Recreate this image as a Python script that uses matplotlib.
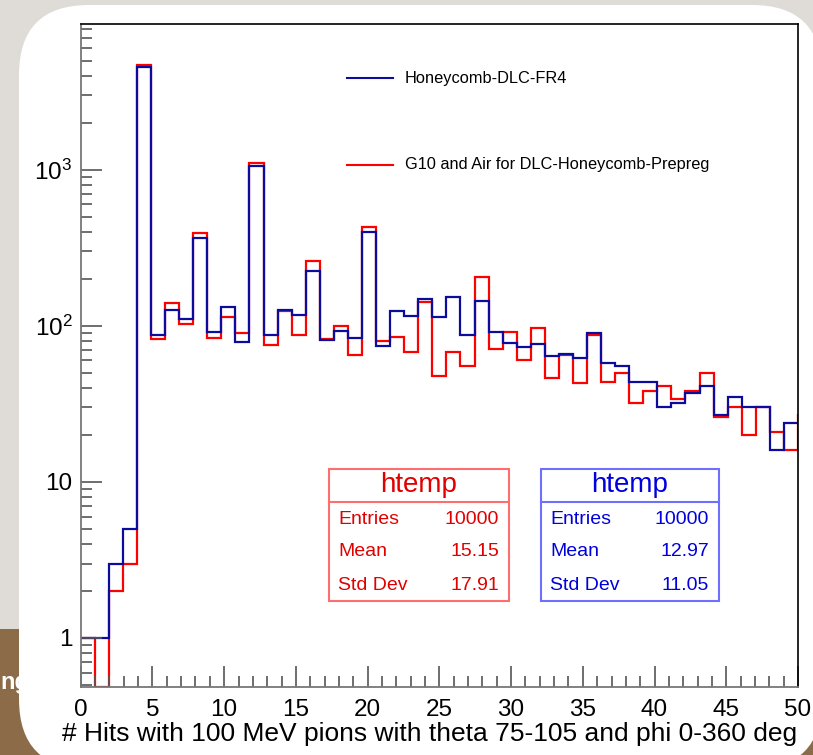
import numpy as np
import matplotlib
matplotlib.use('Agg')
import matplotlib.pyplot as plt
from matplotlib.patches import FancyBboxPatch, Rectangle
from matplotlib.lines import Line2D
from matplotlib.transforms import IdentityTransform

plt.rcParams['font.family'] = ['Liberation Sans', 'DejaVu Sans']

W, H = 813, 755

# bin contents (bins of width 50/51 starting at 0)
blue_counts = [1, 1, 3, 5, 4590, 87, 127, 111, 368, 92, 132, 79, 1061, 87, 127, 118,
               226, 81, 93, 84, 402, 74, 124, 115, 148, 114, 152, 87, 145, 91, 78, 73,
               77, 64, 66, 62, 90, 58, 55, 44, 44, 30, 32, 37, 41, 27, 35, 30, 30, 16, 24, 24]
red_counts = [1, 0, 2, 3, 4710, 82, 140, 103, 396, 83, 114, 90, 1114, 75, 125, 88,
              261, 82, 100, 65, 427, 80, 85, 68, 142, 48, 68, 55, 207, 71, 92, 60,
              97, 46, 65, 43, 87, 44, 50, 32, 38, 41, 34, 38, 50, 26, 30, 20, 30, 21, 16, 27]
bin_width = 50 / 51

blue_label = 'Honeycomb-DLC-FR4'
red_label = 'G10 and Air for DLC-Honeycomb-Prepreg'
x_title = '# Hits with 100 MeV pions with theta 75-105 and phi 0-360 deg'

x_ticks = [0, 5, 10, 15, 20, 25, 30, 35, 40, 45, 50]
y_ticks = [1, 10, 100, 1000]
y_ticklabels = ['1', '10', r'$\mathregular{10^2}$', r'$\mathregular{10^3}$']

stat_names = ['Entries', 'Mean', 'Std Dev']
red_stats = ['10000', '15.15', '17.91']
blue_stats = ['10000', '12.97', '11.05']

BLUE = '#0c0c9c'
RED = '#ff0000'
ylo, yhi = 0.485, 8600

fig = plt.figure(figsize=(W / 100, H / 100), dpi=100)
fig.patch.set_facecolor('#dfdcd7')
px = IdentityTransform()

# slide background: wood strip at the bottom, white rounded panel
fig.add_artist(Rectangle((0, 0), W, H - 629, transform=px, facecolor='#8c6c48',
                         edgecolor='none', zorder=-10))
fig.text(0, 1 - 689 / H, 'ng', color='white', fontsize=17, fontweight='bold',
         va='baseline', zorder=-9)
fig.add_artist(FancyBboxPatch((19, H - 769), 803, 764, boxstyle='round,pad=0,rounding_size=70',
                              transform=px, facecolor='white', edgecolor='none', zorder=-8))

ax = fig.add_axes([80.7 / W, 1 - 687 / H, (798 - 80.7) / W, (687 - 24) / H])
ax.set_facecolor('white')

edges_r = np.arange(len(red_counts) + 1) * bin_width
edges_b = np.arange(len(blue_counts) + 1) * bin_width
red_plot = np.where(np.array(red_counts) > 0, red_counts, ylo)
ax.stairs(red_plot, edges_r, baseline=None, color=RED, lw=1.6)
ax.stairs(blue_counts, edges_b, baseline=None, color=BLUE, lw=1.6)

ax.set_yscale('log')
ax.set_xlim(0, 50)
ax.set_ylim(ylo, yhi)
ax.set_xticks(x_ticks)
ax.set_xticks(np.arange(0, 51, 1), minor=True)
ax.set_yticks(y_ticks)
ax.set_yticklabels(y_ticklabels)
ax.yaxis.set_minor_formatter(matplotlib.ticker.NullFormatter())

ax.tick_params(axis='both', which='major', direction='in', length=15, width=1.2,
               color='#555555', labelsize=17.5, pad=6)
ax.tick_params(axis='both', which='minor', direction='in', length=8, width=1.2,
               color='#555555')
ax.tick_params(axis='x', which='major', pad=9)
for s in ['left', 'bottom']:
    ax.spines[s].set_color('#777777')
    ax.spines[s].set_linewidth(1.3)
for s in ['top', 'right']:
    ax.spines[s].set_color('black')
    ax.spines[s].set_linewidth(1.2)

fig.text(797 / W, 1 - 741 / H, x_title, ha='right', va='baseline', fontsize=19)

# legend
for yy, col, lab in [(78, BLUE, blue_label), (165, RED, red_label)]:
    fig.add_artist(Line2D([347, 393], [H - yy, H - yy], transform=px, color=col, lw=1.5))
    fig.text(405 / W, 1 - yy / H, lab, ha='left', va='center', fontsize=11.8)

# stats boxes
def stats_box(x0, x1, edge, col, values):
    y0, y1, ysep = 469, 601, 502
    fig.add_artist(Rectangle((x0, H - y1), x1 - x0, y1 - y0, transform=px, facecolor='white',
                             edgecolor=edge, lw=1.5, zorder=5))
    fig.add_artist(Line2D([x0, x1], [H - ysep, H - ysep], transform=px, color=edge, lw=1.5,
                          zorder=6))
    fig.text((x0 + x1) / 2 / W, 1 - 485 / H, 'htemp', ha='center', va='center',
             fontsize=20, color=col, zorder=7)
    for name, val, yy in zip(stat_names, values, [520, 552, 585]):
        fig.text((x0 + 9) / W, 1 - yy / H, name, ha='left', va='center', fontsize=14,
                 color=col, zorder=7)
        fig.text((x1 - 10) / W, 1 - yy / H, val, ha='right', va='center', fontsize=14,
                 color=col, zorder=7)

stats_box(329, 509, '#ff6e6e', '#e00000', red_stats)
stats_box(541, 719, '#6e6eff', '#0000dd', blue_stats)

fig.savefig('out.png', dpi=100, facecolor=fig.get_facecolor())
